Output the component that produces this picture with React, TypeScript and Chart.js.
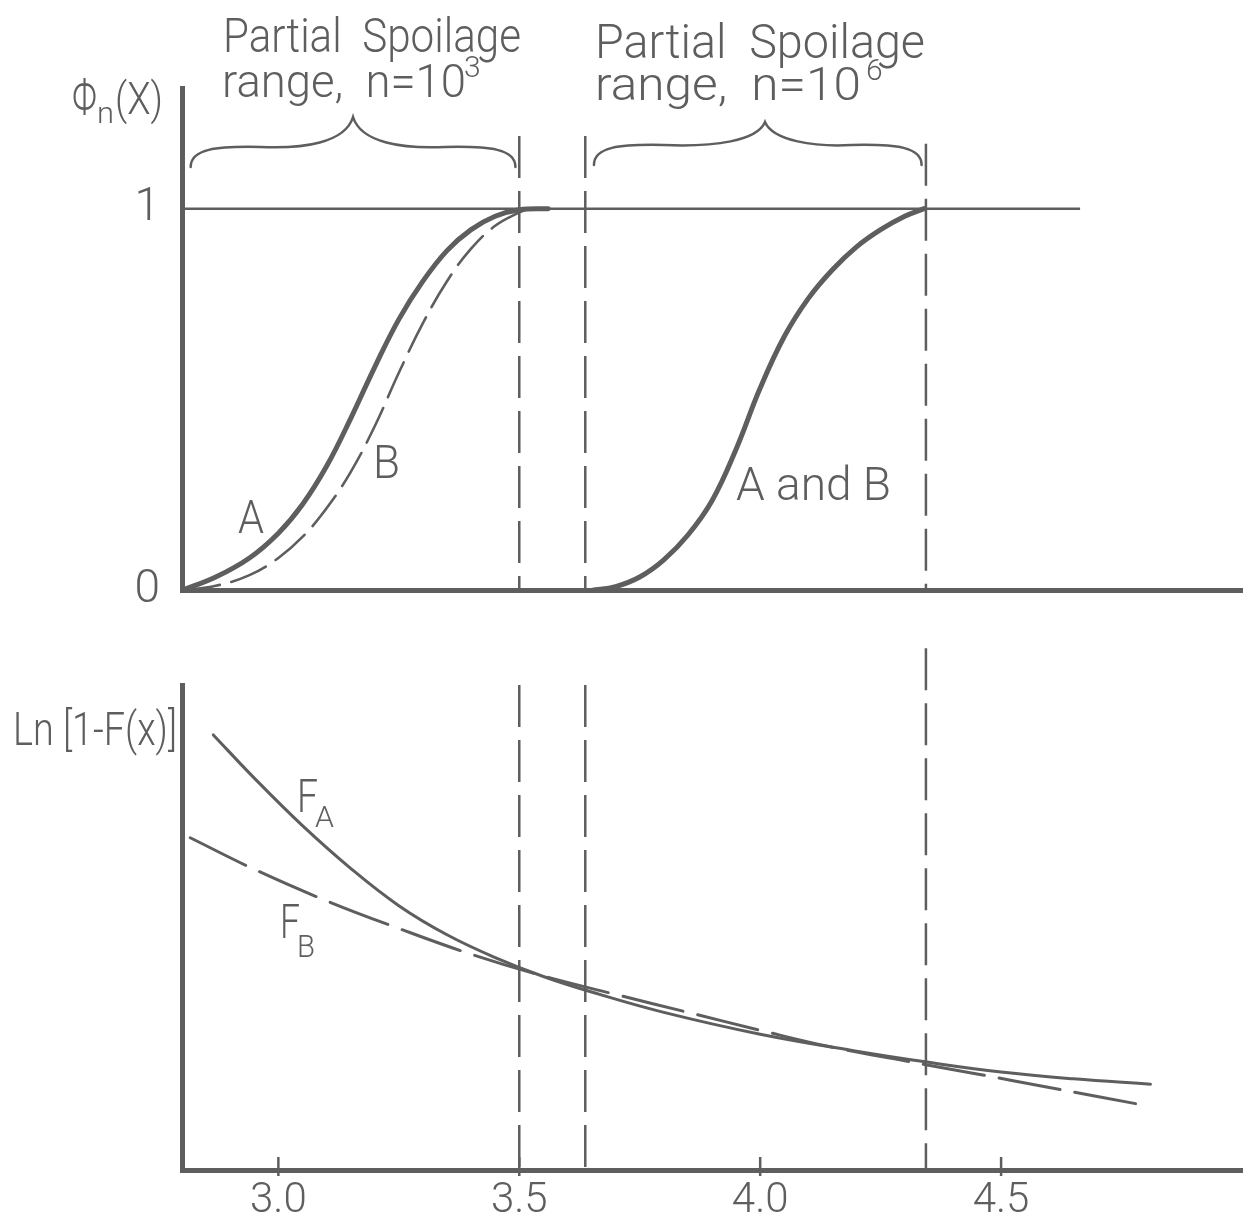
import React, { useEffect, useRef } from "react";
import { Chart, registerables } from "chart.js";

Chart.register(...registerables);

const INK = "#5e5e5e";
const FONT = 'Roboto, "DejaVu Sans Condensed", "DejaVu Sans", sans-serif';
const WEIGHT = "300";

// Upper panel: Φn(x) for the two lots
const phiA_x = [2.8, 2.87, 2.94, 3.0, 3.05, 3.1, 3.15, 3.2, 3.25, 3.3, 3.35, 3.4, 3.45, 3.5, 3.56];
const phiA_y = [0.0, 0.035, 0.085, 0.15, 0.225, 0.325, 0.45, 0.585, 0.71, 0.81, 0.89, 0.945, 0.98, 0.997, 1.0];
const phiB_x = [2.8, 2.87, 2.94, 3.0, 3.05, 3.1, 3.15, 3.2, 3.25, 3.3, 3.35, 3.4, 3.45, 3.5, 3.52];
const phiB_y = [0.0, 0.012, 0.04, 0.085, 0.14, 0.215, 0.31, 0.43, 0.57, 0.7, 0.81, 0.895, 0.955, 0.99, 1.0];
const phiAB_x = [3.65, 3.7, 3.75, 3.8, 3.85, 3.9, 3.95, 4.0, 4.05, 4.1, 4.15, 4.2, 4.25, 4.3, 4.34];
const phiAB_y = [0.0, 0.01, 0.035, 0.08, 0.145, 0.235, 0.37, 0.53, 0.665, 0.765, 0.84, 0.9, 0.945, 0.98, 1.0];

// Lower panel: Ln[1 - F(x)] for the two distributions
const lnA_x = [2.865, 2.95, 3.05, 3.15, 3.25, 3.35, 3.45, 3.55, 3.65, 3.8, 4.0, 4.2, 4.35, 4.5, 4.65, 4.81];
const lnA_y = [8.97, 8.08, 7.1, 6.22, 5.45, 4.85, 4.38, 3.99, 3.67, 3.25, 2.8, 2.45, 2.22, 2.02, 1.88, 1.77];
const lnB_x = [2.817, 2.95, 3.1, 3.25, 3.4, 3.55, 3.7, 3.85, 4.0, 4.15, 4.3, 4.45, 4.6, 4.805];
const lnB_y = [6.85, 6.2, 5.55, 4.98, 4.45, 4.0, 3.62, 3.25, 2.88, 2.53, 2.25, 1.98, 1.7, 1.32];

// Partial spoilage range limits and how far their dashed markers reach
const rangeEdges = [3.5, 3.637, 4.344];
const edgeTopUpper = [1.19, 1.19, 1.17];
const edgeTopLower = [10, 10, 10.76];

const xTicks = [3.0, 3.5, 4.0, 4.5];
const xTickLabels = ["3.0", "3.5", "4.0", "4.5"];
const phiTicks = [0, 1];
const unitLineEnd = 4.664;

const X_MIN = 2.8;
const X_MAX = 5.0;

const pts = (xs: number[], ys: number[]) => xs.map((x, i) => ({ x, y: ys[i] }));

function fitText(ctx: CanvasRenderingContext2D, text: string, x: number, y: number, size: number, width?: number) {
  ctx.save();
  ctx.font = `${WEIGHT} ${size}px ${FONT}`;
  ctx.fillStyle = INK;
  ctx.textAlign = "left";
  ctx.textBaseline = "alphabetic";
  const w = ctx.measureText(text).width;
  ctx.translate(x, y);
  if (width) ctx.scale(width / w, 1);
  ctx.fillText(text, 0, 0);
  ctx.restore();
}

function brace(ctx: CanvasRenderingContext2D, x1: number, x2: number, xm: number, yBase: number, yEnd: number, yPeak: number) {
  ctx.save();
  ctx.strokeStyle = INK;
  ctx.lineWidth = 2.5;
  ctx.lineCap = "round";
  ctx.beginPath();
  ctx.moveTo(x1, yEnd);
  ctx.bezierCurveTo(x1, yBase + 2, x1 + 25, yBase - 1, x1 + 70, yBase);
  ctx.bezierCurveTo(xm - 50, yBase + 2, xm - 8, yBase - 4, xm, yPeak);
  ctx.bezierCurveTo(xm + 8, yBase - 4, xm + 50, yBase + 2, x2 - 70, yBase);
  ctx.bezierCurveTo(x2 - 25, yBase - 1, x2, yBase + 2, x2, yEnd);
  ctx.stroke();
  ctx.restore();
}

const edgeSets = (tops: number[]) =>
  rangeEdges.map((e, i) => ({
    data: [
      { x: e, y: tops[i] },
      { x: e, y: 0 },
    ],
    borderColor: INK,
    borderWidth: 2.5,
    borderDash: [42, 13],
    clip: false as any,
  }));

const curve = (xs: number[], ys: number[], width: number, dash?: number[]) => ({
  data: pts(xs, ys),
  borderColor: INK,
  borderWidth: width,
  borderDash: dash || [],
  tension: 0.4,
  borderCapStyle: "round",
});

export default function App() {
  const topRef = useRef<HTMLCanvasElement>(null);
  const botRef = useRef<HTMLCanvasElement>(null);

  useEffect(() => {
    const upperNotes = {
      id: "upperNotes",
      afterDraw(chart: any) {
        const ctx = chart.ctx as CanvasRenderingContext2D;
        const xs = chart.scales.x;
        brace(ctx, xs.getPixelForValue(2.818), xs.getPixelForValue(3.492), xs.getPixelForValue(3.155), 147, 167, 117);
        brace(ctx, xs.getPixelForValue(3.655), xs.getPixelForValue(4.335), xs.getPixelForValue(4.01), 145, 165, 122);

        fitText(ctx, "Partial  Spoilage", 223, 52, 48, 298);
        fitText(ctx, "range,  n=10", 222, 97, 46, 244);
        fitText(ctx, "3", 464, 77, 30);
        fitText(ctx, "Partial  Spoilage", 595, 58, 48, 330);
        fitText(ctx, "range,  n=10", 595, 100, 46, 266);
        fitText(ctx, "6", 866, 80, 30);

        fitText(ctx, "Φ", 72, 115, 52, 25);
        fitText(ctx, "n", 97, 123, 30, 17);
        fitText(ctx, "(X)", 115, 114, 44, 48);

        fitText(ctx, "A", 238, 533, 46, 26);
        fitText(ctx, "B", 373, 478, 46, 27);
        fitText(ctx, "A and B", 736, 500, 46, 155);
      },
    };

    const lowerNotes = {
      id: "lowerNotes",
      afterDraw(chart: any) {
        const ctx = chart.ctx as CanvasRenderingContext2D;
        const xs = chart.scales.x;
        const b = chart.chartArea.bottom;
        ctx.save();
        ctx.strokeStyle = INK;
        ctx.lineWidth = 2.5;
        xTicks.forEach((t) => {
          const p = xs.getPixelForValue(t);
          ctx.beginPath();
          ctx.moveTo(p, b - 13);
          ctx.lineTo(p, b + 6);
          ctx.stroke();
        });
        ctx.restore();

        fitText(ctx, "Ln [1-F(x)]", 13, 105, 46, 164);
        fitText(ctx, "F", 297, 172, 46, 21);
        fitText(ctx, "A", 315, 187, 30, 19);
        fitText(ctx, "F", 280, 298, 48, 20);
        fitText(ctx, "B", 297, 317, 32, 18);
      },
    };

    const top = new Chart(topRef.current!, {
      type: "scatter",
      data: {
        datasets: [
          {
            data: [
              { x: X_MIN, y: 1 },
              { x: unitLineEnd, y: 1 },
            ],
            borderColor: INK,
            borderWidth: 2.5,
          },
          ...edgeSets(edgeTopUpper),
          curve(phiB_x, phiB_y, 2.6, [38, 12]),
          curve(phiA_x, phiA_y, 5),
          curve(phiAB_x, phiAB_y, 5),
        ] as any,
      },
      options: {
        animation: false,
        responsive: false,
        events: [],
        showLine: true,
        elements: { point: { radius: 0 } },
        layout: { padding: { top: 88, right: 8, left: 0, bottom: 0 } },
        plugins: { legend: { display: false }, tooltip: { enabled: false } },
        scales: {
          x: {
            type: "linear",
            min: X_MIN,
            max: X_MAX,
            grid: { display: false, drawTicks: false },
            border: { display: true, color: INK, width: 5 },
            ticks: { display: false },
            afterFit: (s: any) => {
              s.height = 44;
            },
          },
          y: {
            type: "linear",
            min: 0,
            max: 1.316,
            grid: { display: false, drawTicks: false },
            border: { display: true, color: INK, width: 5 },
            afterBuildTicks: (s: any) => {
              s.ticks = phiTicks.map((v) => ({ value: v }));
            },
            ticks: {
              color: INK,
              padding: 22,
              font: { family: FONT, size: 46, weight: WEIGHT },
              callback: (v: any) => String(v),
            },
            afterFit: (s: any) => {
              s.width = 182;
            },
          },
        },
      } as any,
      plugins: [upperNotes],
    });

    const bot = new Chart(botRef.current!, {
      type: "scatter",
      data: {
        datasets: [
          ...edgeSets(edgeTopLower),
          curve(lnB_x, lnB_y, 3, [62, 15]),
          curve(lnA_x, lnA_y, 3),
        ] as any,
      },
      options: {
        animation: false,
        responsive: false,
        events: [],
        showLine: true,
        elements: { point: { radius: 0 } },
        layout: { padding: { top: 45, right: 8, left: 0, bottom: 0 } },
        plugins: { legend: { display: false }, tooltip: { enabled: false } },
        scales: {
          x: {
            type: "linear",
            min: X_MIN,
            max: X_MAX,
            grid: { display: false, drawTicks: false },
            border: { display: true, color: INK, width: 5 },
            afterBuildTicks: (s: any) => {
              s.ticks = xTicks.map((v) => ({ value: v }));
            },
            ticks: {
              color: INK,
              padding: 6,
              maxRotation: 0,
              autoSkip: false,
              font: { family: FONT, size: 42, weight: WEIGHT },
              callback: (_v: any, i: number) => xTickLabels[i],
            },
            afterFit: (s: any) => {
              s.height = 62;
            },
          },
          y: {
            type: "linear",
            min: 0,
            max: 10,
            grid: { display: false, drawTicks: false },
            border: { display: true, color: INK, width: 5 },
            ticks: { display: false },
            afterFit: (s: any) => {
              s.width = 182;
            },
          },
        },
      } as any,
      plugins: [lowerNotes],
    });

    return () => {
      top.destroy();
      bot.destroy();
    };
  }, []);

  return (
    <div style={{ position: "absolute", left: 0, top: 0, width: 1250, height: 1232, background: "#fff" }}>
      <canvas ref={topRef} width={1250} height={640} style={{ position: "absolute", left: 0, top: 0 }} />
      <canvas ref={botRef} width={1250} height={592} style={{ position: "absolute", left: 0, top: 640 }} />
    </div>
  );
}
